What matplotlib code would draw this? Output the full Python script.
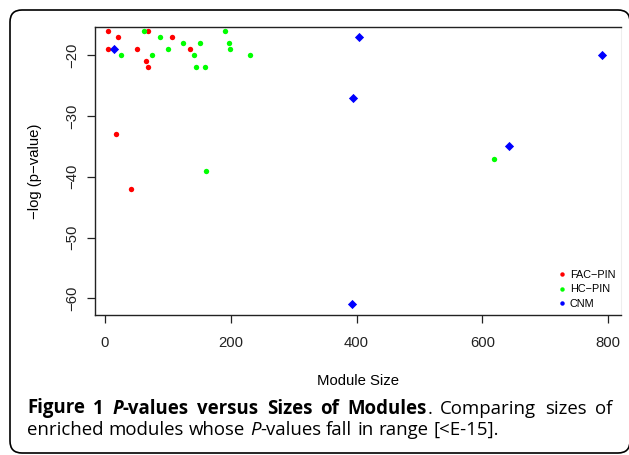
import matplotlib
matplotlib.use("Agg")
import matplotlib.pyplot as plt
from matplotlib.patches import FancyBboxPatch
from matplotlib.lines import Line2D
from matplotlib.transforms import IdentityTransform

# module size vs -log(p-value)
fac_size = [4, 4, 21, 50, 65, 68, 69, 107, 135, 17, 41]
fac_logp = [-16, -19, -17, -19, -21, -16, -22, -17, -19, -33, -42]

hc_size = [25, 62, 74, 87, 100, 124, 141, 145, 151, 159, 191, 197, 198, 231, 161, 618]
hc_logp = [-20, -16, -20, -17, -19, -18, -20, -22, -18, -22, -16, -18, -19, -20, -39, -37]

cnm_size = [15, 404, 395, 791, 642, 393]
cnm_logp = [-19, -17, -27, -20, -35, -61]

x_ticks = [0, 200, 400, 600, 800]
y_ticks = [-20, -30, -40, -50, -60]
labels = ["FAC\u2212PIN", "HC\u2212PIN", "CNM"]
colors = ["#ff0000", "#00ff00", "#0000ff"]

W, H = 629, 455
fig = plt.figure(figsize=(W / 100, H / 100), dpi=100)
ax = fig.add_axes([95 / W, 1 - 315 / H, (620.7 - 95) / W, (315 - 26.7) / H])

ax.scatter(fac_size, fac_logp, s=15, color=colors[0], marker="o", linewidths=0)
ax.scatter(hc_size, hc_logp, s=15, color=colors[1], marker="o", linewidths=0)
ax.scatter(cnm_size, cnm_logp, s=22, color=colors[2], marker="D", linewidths=0)

ax.set_xlim(-16, 820)
ax.set_ylim(-62.75, -15.3)
ax.set_xticks(x_ticks)
ax.set_yticks(y_ticks)
ax.set_xticklabels([str(v) for v in x_ticks], fontsize=10.7, family="Liberation Sans")
ax.set_yticklabels([str(v).replace("-", "\u2212") for v in y_ticks], fontsize=10.7,
                   family="Liberation Sans", rotation=90, va="center")
ax.tick_params(axis="x", length=6, width=0.9, pad=9, colors="#222222")
ax.tick_params(axis="y", length=6, width=0.9, pad=5, colors="#222222")
for side in ["left", "bottom", "top"]:
    ax.spines[side].set_linewidth(1.0)
    ax.spines[side].set_color("#222222")
ax.spines["right"].set_color("#eeeeee")

handles = [Line2D([], [], linestyle="none", marker="o", markersize=3.2, color=c,
                  markeredgewidth=0) for c in colors]
leg = ax.legend(handles, labels, loc="upper left", bbox_to_anchor=(0.868, 0.175), frameon=False,
                prop={"family": "Liberation Sans", "size": 7.8},
                handletextpad=0.2, labelspacing=0.4, borderpad=0, handlelength=1.0)

fig.text(35 / W, 1 - 171 / H, "\u2212log (p\u2212value)", rotation=90, ha="center", va="center",
         fontsize=10.7, family="Liberation Sans")
fig.text(358 / W, 1 - 380.7 / H, "Module Size", ha="center", va="center",
         fontsize=10.7, family="Liberation Sans")

# rounded frame around figure + caption
frame = FancyBboxPatch((0.10, 0.02), 6.20, 4.43, boxstyle="round,pad=0,rounding_size=0.12",
                       transform=fig.dpi_scale_trans, fill=False, edgecolor="black", linewidth=1.2)
fig.patches.append(frame)

# caption, first line justified
cap_font = "Open Sans"
cap_size = 13.4
styles = {"n": dict(weight="normal", style="normal"),
          "b": dict(weight="bold", style="normal"),
          "bi": dict(weight="bold", style="italic"),
          "i": dict(weight="normal", style="italic")}
line1 = [[("Figure", "b")], [("1", "b")], [("P", "bi"), ("-values", "b")], [("versus", "b")],
         [("Sizes", "b")], [("of", "b")], [("Modules", "b"), (".", "n")], [("Comparing", "n")],
         [("sizes", "n")], [("of", "n")]]
line2 = [[("enriched", "n")], [("modules", "n")], [("whose", "n")], [("P", "i"), ("-values", "n")],
         [("fall", "n")], [("in", "n")], [("range", "n")], [("[<E-15].", "n")]]

renderer = fig.canvas.get_renderer()


def run_width(s, st):
    t = fig.text(0, 0, s, fontsize=cap_size, family=cap_font, **styles[st])
    w = t.get_window_extent(renderer).width
    t.remove()
    return w


space_w = run_width("a a", "n") - run_width("aa", "n")


def draw_line(words, y, x0, x1=None):
    widths = [[run_width(s, st) for s, st in w] for w in words]
    total = sum(sum(w) for w in widths)
    gap = space_w
    if x1 is not None:
        gap = (x1 - x0 - total) / (len(words) - 1)
    x = x0
    for w, ws in zip(words, widths):
        for (s, st), rw in zip(w, ws):
            fig.text(x, y, s, fontsize=cap_size, family=cap_font, transform=IdentityTransform(),
                     va="baseline", ha="left", **styles[st])
            x += rw
        x += gap


draw_line(line1, H - 413.5, 27, 612)
draw_line(line2, H - 435, 27)

fig.savefig("out.png", dpi=100)
